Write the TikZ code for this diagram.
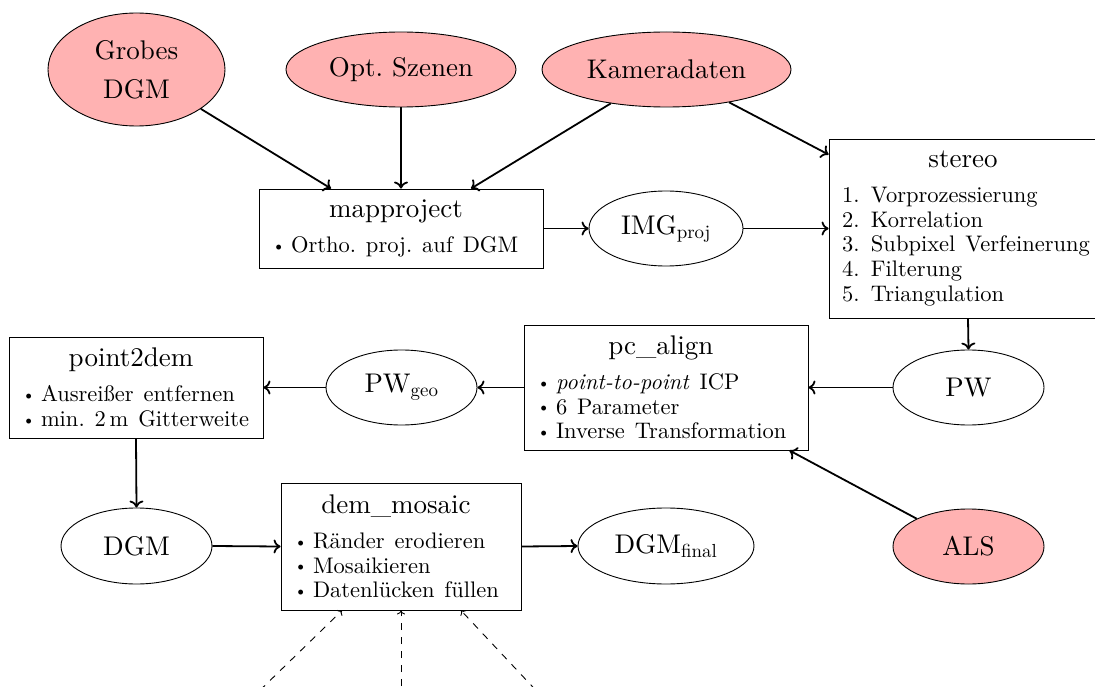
\documentclass[tikz,border=0pt]{standalone}
\usepackage{fontspec}
\setmainfont{lmroman10-regular.otf}[ItalicFont=lmroman10-italic.otf, BoldFont=lmroman10-bold.otf, BoldItalicFont=lmroman10-bolditalic.otf]
\usetikzlibrary{shapes.geometric,arrows.meta,calc}
\frenchspacing
\newcommand{\Tf}{\fontsize{27}{31}\selectfont}
\newcommand{\If}{\fontsize{22.5}{24.8}\selectfont\spaceskip=0.44em plus 0.1em minus 0.05em\relax}
\newcommand{\bul}{\makebox[19pt][l]{\raisebox{1.2pt}{\fontsize{17}{17}\selectfont\textbullet}}}
\newcommand{\enu}[1]{\makebox[29pt][l]{#1}}
\newcommand{\ttl}[1]{\makebox[\linewidth]{\Tf #1\hspace{10pt}}\par\vspace{10pt}}
\begin{document}
\begin{tikzpicture}[x=1pt,y=-1pt,
  proc/.style={draw, line width=0.9pt, rectangle, inner xsep=13pt, inner ysep=0pt,
    align=left, execute at begin node=\setlength{\parindent}{0pt}},
  ell/.style={ellipse, draw, line width=0.9pt, inner sep=0pt, font=\Tf, align=center},
  src/.style={ell, fill=red!30},
  arr/.style={line width=1.8pt, -{To[length=7pt,width=14pt]}},
  darr/.style={line width=0.9pt, dash pattern=on 7pt off 7pt, -{To[length=4pt,width=8pt]}}]
\useasboundingbox (0,0) rectangle (1095,687);
\clip (0,0) rectangle (1095,687);

% sources
\node[src, minimum width=177pt, minimum height=113pt] (grobes) at (136.5,69.5) {Grobes\\[8pt]DGM};
\node[src, minimum width=230pt, minimum height=75pt] (opt) at (401,69.5) {Opt. Szenen};
\node[src, minimum width=249pt, minimum height=75pt] (kam) at (666.5,69.5) {Kameradaten};
\node[src, minimum width=151pt, minimum height=75pt] (als) at (968.5,546.5) {ALS};

% process boxes
\node[proc, text width=258pt, minimum height=79pt] (map) at (401,228.5)
  {\ttl{mapproject}\If\bul Ortho. proj. auf DGM\par};
\node[proc, text width=252pt, minimum height=179pt] (stereo) at (968,228.5)
  {\ttl{stereo}\If\enu{1.}Vorprozessierung\par\enu{2.}Korrelation\par\enu{3.}Subpixel Verfeinerung\par\enu{4.}Filterung\par\enu{5.}Triangulation\par};
\node[proc, text width=258pt, minimum height=125pt] (pc) at (666,387.5)
  {\ttl{pc\_align}\If\bul\textit{point-to-point} ICP\par\bul 6 Parameter\par\bul Inverse Transformation\par};
\node[proc, text width=228pt, minimum height=101pt] (p2d) at (136,387.5)
  {\ttl{point2dem}\If\bul Ausreißer entfernen\par\bul min. 2\,m Gitterweite\par};
\node[proc, text width=214pt, minimum height=127pt] (mosaic) at (401,546.5)
  {\ttl{dem\_mosaic}\If\bul Ränder erodieren\par\bul Mosaikieren\par\bul Datenlücken füllen\par};

% data ellipses
\node[ell, minimum width=154pt, minimum height=75pt] (img) at (666,228.5) {IMG\textsubscript{proj}};
\node[ell, minimum width=151pt, minimum height=75pt] (pw) at (968.5,387.5) {PW};
\node[ell, minimum width=151pt, minimum height=75pt] (pwgeo) at (401.5,387.5) {PW\textsubscript{geo}};
\node[ell, minimum width=151pt, minimum height=76pt] (dgm) at (136.5,546) {DGM};
\node[ell, minimum width=176pt, minimum height=76pt] (dgmf) at (666,546) {DGM\textsubscript{final}};

% free ends below
\coordinate (d1) at (250,700);
\coordinate (d2) at (401,700);
\coordinate (d3) at (545,700);

% connectors
\draw[arr] (grobes) -- ($(map.north)+(-70,0)$);
\draw[arr] (opt) -- (map.north);
\draw[arr] (kam) -- ($(map.north)+(70,0)$);
\draw[arr] (kam) -- ($(stereo.north west)+(0,16)$);
\draw[arr] (map.east) -- (img.west);
\draw[arr] (img.east) -- (stereo.west);
\draw[arr] (stereo.south) -- (pw.north);
\draw[arr] (pw.west) -- (pc.east);
\draw[arr] (pc.west) -- (pwgeo.east);
\draw[arr] (pwgeo.west) -- (p2d.east);
\draw[arr] (p2d.south) -- (dgm.north);
\draw[arr] (dgm.east) -- (mosaic.west);
\draw[arr] (mosaic.east) -- (dgmf.west);
\draw[arr] (als) -- ($(pc.south east)+(-19,0)$);
\draw[darr] (d1) -- ($(mosaic.south)+(-59,0)$);
\draw[darr] (d2) -- (mosaic.south);
\draw[darr] (d3) -- ($(mosaic.south)+(60,0)$);
\end{tikzpicture}
\end{document}
